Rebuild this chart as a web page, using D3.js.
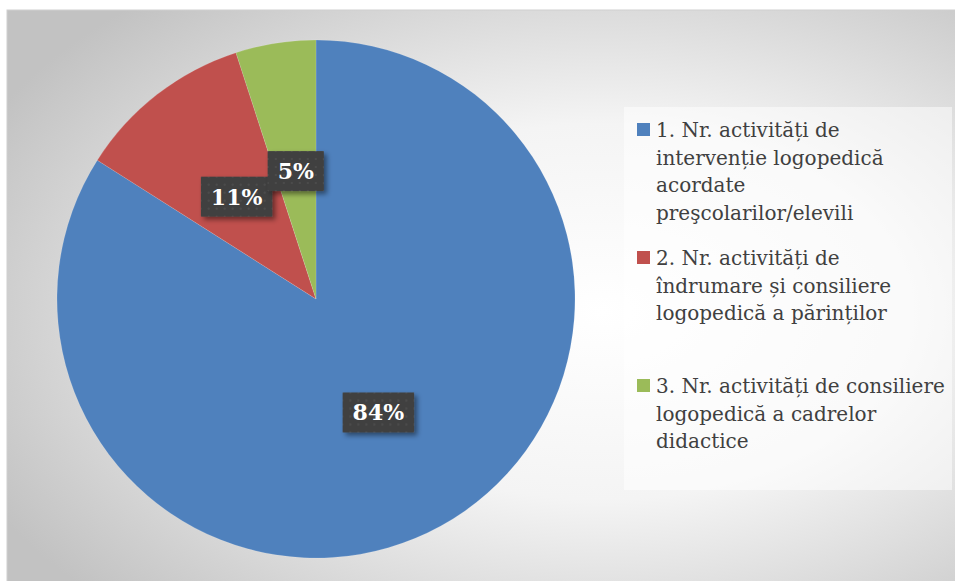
<!DOCTYPE html>
<html>
<head>
<meta charset="UTF-8">
<style>
  body { margin: 0; background: #fff; }
  .leg text { font-family: "DejaVu Serif", serif; font-size: 20px; fill: #404040; }
  .lbl text { font-family: "DejaVu Serif", serif; font-weight: bold; font-size: 22px; fill: #fff; }
</style>
<script src="https://d3js.org/d3.v7.min.js"></script>
</head>
<body>
<svg id="chart" width="955" height="581"></svg>
<script>
// date
var categorii = ["cat1", "cat2", "cat3"];
var valori = [84, 11, 5];
var culori = ["#4f81bd", "#c0504d", "#9bbb59"];
var etichete = ["84%", "11%", "5%"];
var legenda = [
  ["1. Nr. activități de", "intervenție logopedică", "acordate", "preşcolarilor/elevili"],
  ["2. Nr. activități de", "îndrumare și consiliere", "logopedică a părinților"],
  ["3. Nr. activități de consiliere", "logopedică a cadrelor", "didactice"]
];

var svg = d3.select("#chart");
var defs = svg.append("defs");

var bg = defs.append("radialGradient").attr("id", "bg")
  .attr("cx", 0.62).attr("cy", 0.52).attr("r", 0.72);
bg.append("stop").attr("offset", 0).attr("stop-color", "#ffffff");
bg.append("stop").attr("offset", 0.45).attr("stop-color", "#f4f4f4");
bg.append("stop").attr("offset", 1).attr("stop-color", "#c2c2c2");

var pat = defs.append("pattern").attr("id", "dots")
  .attr("width", 8).attr("height", 8).attr("patternUnits", "userSpaceOnUse");
pat.append("rect").attr("width", 8).attr("height", 8).attr("fill", "#404040");
pat.append("rect").attr("x", 3).attr("y", 3).attr("width", 2).attr("height", 2).attr("fill", "#4c4c4c");

var sh = defs.append("filter").attr("id", "shadow")
  .attr("x", "-20%").attr("y", "-20%").attr("width", "150%").attr("height", "160%");
sh.append("feDropShadow").attr("dx", 3).attr("dy", 3).attr("stdDeviation", 2.5)
  .attr("flood-color", "#000").attr("flood-opacity", 0.45);

// zona graficului
svg.append("rect").attr("x", 7).attr("y", 10).attr("width", 960).attr("height", 580)
  .attr("fill", "url(#bg)").attr("stroke", "#d0d0d0").attr("stroke-width", 1);

var cx = 316, cy = 299, raza = 259;
var g = svg.append("g").attr("transform", "translate(" + cx + "," + cy + ")");

var pie = d3.pie().sort(null).value(function(d) { return d; });
var arcs = pie(valori);
var arc = d3.arc().innerRadius(0).outerRadius(raza);
var arcLbl = d3.arc().innerRadius(raza * 0.5).outerRadius(raza * 0.5);

g.selectAll("path.felie")
  .data(arcs)
  .enter()
  .append("path")
  .attr("class", "felie")
  .attr("d", arc)
  .attr("fill", function(d, i) { return culori[i]; })
  .attr("stroke", "#ffffff")
  .attr("stroke-opacity", 0.25)
  .attr("stroke-width", 0.5);

// etichete de date
var lbl = g.selectAll("g.lbl")
  .data(arcs)
  .enter()
  .append("g")
  .attr("class", "lbl")
  .attr("transform", function(d) {
    var c = arcLbl.centroid(d);
    return "translate(" + c[0] + "," + c[1] + ")";
  });

lbl.each(function(d, i) {
  var el = d3.select(this);
  var t = el.append("text")
    .attr("text-anchor", "middle")
    .attr("dy", "0.36em")
    .text(etichete[i]);
  var w = t.node().getComputedTextLength();
  el.insert("rect", "text")
    .attr("x", -w / 2 - 10)
    .attr("y", -20)
    .attr("width", w + 20)
    .attr("height", 40)
    .attr("fill", "url(#dots)")
    .attr("filter", "url(#shadow)");
});

// legenda
svg.append("rect").attr("x", 624).attr("y", 107).attr("width", 328).attr("height", 383)
  .attr("fill", "#ffffff").attr("fill-opacity", 0.5);

var leg = svg.append("g").attr("class", "leg");
var y0 = 137, pas = 128, linie = 27.7;
legenda.forEach(function(rows, i) {
  var y = y0 + i * pas;
  leg.append("rect")
    .attr("x", 637).attr("y", y - 14)
    .attr("width", 13).attr("height", 13)
    .attr("fill", culori[i]);
  rows.forEach(function(r, j) {
    leg.append("text")
      .attr("x", 656)
      .attr("y", y + j * linie)
      .text(r);
  });
});
</script>
</body>
</html>
